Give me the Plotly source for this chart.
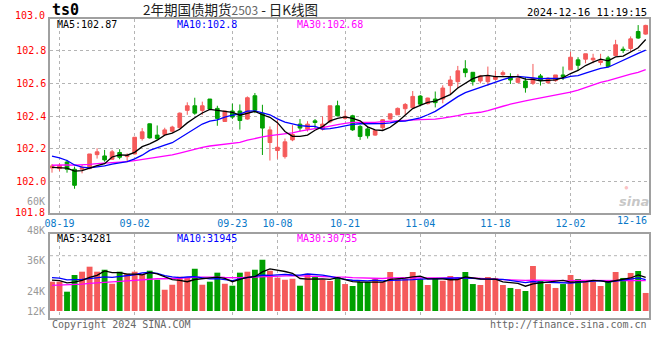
import plotly.graph_objects as go
import pandas as pd

# ---------------- data ----------------
tick_labels = ["08-19", "09-02", "09-23", "10-08", "10-21", "11-04", "11-18", "12-02", "12-16"]
tick_index = [1, 11, 24, 30, 39, 49, 59, 69, 79]

open_ = [102.084, 102.080, 102.120, 102.076, 102.076, 102.080, 102.165, 102.157, 102.137, 102.178,
         102.153, 102.169, 102.263, 102.353, 102.284, 102.288, 102.308, 102.329, 102.435, 102.463,
         102.435, 102.504, 102.447, 102.367, 102.431, 102.431, 102.382, 102.524, 102.418, 102.239,
         102.190, 102.153, 102.255, 102.351, 102.320, 102.371, 102.320, 102.365, 102.463, 102.386,
         102.402, 102.337, 102.322, 102.284, 102.329, 102.382, 102.408, 102.445, 102.451, 102.522,
         102.476, 102.504, 102.504, 102.586, 102.610, 102.688, 102.667, 102.614, 102.610, 102.624,
         102.653, 102.641, 102.606, 102.614, 102.600, 102.645, 102.604, 102.616, 102.651, 102.682,
         102.743, 102.747, 102.743, 102.727, 102.755, 102.769, 102.808, 102.812, 102.916, 102.900]
high = [102.108, 102.112, 102.133, 102.092, 102.102, 102.169, 102.204, 102.194, 102.194, 102.198,
        102.173, 102.273, 102.327, 102.355, 102.343, 102.329, 102.341, 102.422, 102.484, 102.512,
        102.488, 102.504, 102.463, 102.431, 102.476, 102.471, 102.520, 102.541, 102.469, 102.337,
        102.380, 102.263, 102.345, 102.382, 102.369, 102.382, 102.398, 102.463, 102.494, 102.433,
        102.408, 102.345, 102.337, 102.316, 102.382, 102.414, 102.453, 102.480, 102.553, 102.529,
        102.512, 102.550, 102.588, 102.645, 102.706, 102.741, 102.667, 102.651, 102.702, 102.678,
        102.678, 102.661, 102.657, 102.637, 102.718, 102.657, 102.637, 102.651, 102.702, 102.792,
        102.759, 102.780, 102.780, 102.780, 102.767, 102.865, 102.824, 102.886, 102.955, 102.957]
low = [102.055, 102.065, 102.055, 101.957, 102.051, 102.076, 102.141, 102.122, 102.133, 102.137,
       102.122, 102.167, 102.251, 102.263, 102.255, 102.280, 102.300, 102.324, 102.408, 102.408,
       102.408, 102.439, 102.341, 102.367, 102.382, 102.318, 102.378, 102.418, 102.163, 102.129,
       102.140, 102.141, 102.247, 102.306, 102.306, 102.327, 102.312, 102.357, 102.398, 102.378,
       102.310, 102.255, 102.263, 102.280, 102.316, 102.378, 102.408, 102.408, 102.451, 102.459,
       102.471, 102.453, 102.478, 102.531, 102.569, 102.637, 102.586, 102.600, 102.584, 102.620,
       102.645, 102.596, 102.600, 102.543, 102.590, 102.586, 102.596, 102.610, 102.620, 102.682,
       102.678, 102.722, 102.722, 102.710, 102.698, 102.769, 102.784, 102.794, 102.871, 102.896]
close = [102.096, 102.100, 102.076, 101.978, 102.088, 102.169, 102.182, 102.133, 102.182, 102.149,
         102.161, 102.271, 102.304, 102.267, 102.263, 102.316, 102.333, 102.418, 102.463, 102.418,
         102.463, 102.443, 102.386, 102.431, 102.394, 102.373, 102.512, 102.435, 102.327, 102.316,
         102.210, 102.243, 102.288, 102.327, 102.351, 102.361, 102.351, 102.463, 102.402, 102.398,
         102.316, 102.276, 102.280, 102.312, 102.378, 102.414, 102.447, 102.471, 102.520, 102.473,
         102.510, 102.482, 102.571, 102.620, 102.676, 102.665, 102.610, 102.645, 102.645, 102.641,
         102.665, 102.620, 102.631, 102.573, 102.631, 102.616, 102.631, 102.651, 102.641, 102.759,
         102.710, 102.780, 102.753, 102.737, 102.702, 102.835, 102.800, 102.871, 102.876, 102.953]
volume = [29900, 29900, 19700, 36700, 40100, 45200, 40100, 42100, 27800, 40100,
          38000, 40100, 38000, 41100, 31900, 21700, 26800, 35000, 34000, 43100,
          26800, 29900, 39100, 27800, 25800, 39100, 40100, 42100, 52300, 41100,
          34000, 31900, 32900, 25800, 38000, 35000, 31900, 30600, 34700, 27500,
          25500, 29600, 29600, 32600, 29600, 39800, 32600, 32600, 39800, 32600,
          26500, 33700, 30900, 35700, 33700, 39800, 27500, 26500, 34700, 33700,
          26500, 23500, 22400, 20400, 45900, 31600, 27500, 23500, 27500, 36700,
          32600, 29600, 29600, 25500, 30600, 39800, 33700, 38800, 40800, 18400]

# closes / volumes of the 29 sessions before the first candle (only feed the moving averages)
prior_close = [102.04, 102.05, 102.03, 102.06, 102.05, 102.07, 102.06, 102.08, 102.07, 102.06,
               102.08, 102.09, 102.07, 102.08, 102.10, 102.09, 102.08, 102.10, 102.09, 102.10,
               102.20, 102.24, 102.25, 102.22, 102.21, 102.12, 102.08, 102.07, 102.07]
prior_volume = [21000, 23500, 20500, 24000, 22000, 19500, 23000, 25000, 21500, 22500,
                20000, 24500, 23000, 21000, 22000, 24000, 23500, 21000, 22500, 23000,
                34000, 38000, 37500, 35000, 37500, 33000, 31000, 32500, 31500]

# legend texts as printed on the chart
price_ma_text = ["MA5:102.87", "MA10:102.8", "MA30:102.68"]
vol_ma_text = ["MA5:34281", "MA10:31945", "MA30:30735"]
vol_axis_labels = ["60K", "48K", "36K", "24K", "12K"]

# ---------------- derived ----------------
n = len(close)
idx = list(range(n))
c_all = pd.Series(prior_close + close)
v_all = pd.Series(prior_volume + volume)
ma = {k: c_all.rolling(k).mean().tolist()[-n:] for k in (5, 10, 30)}
vma = {k: v_all.rolling(k).mean().tolist()[-n:] for k in (5, 10, 30)}

RED = "#F55A5A"
GREEN = "#00A000"
MA_COL = {5: "#000000", 10: "#0000FF", 30: "#FF00FF"}
MONO = "DejaVu Sans Mono"
W, H = 660, 360

def fx(px):
    return px / W

def fy(py):
    return 1 - py / H

# pixel geometry of the panels
X0, X1 = 50, 649
P_TOP, P_BOT = 19, 213
V_TOP, V_BOT = 234, 318
SLOT = 7.515          # px per session
FIRST = 52            # px centre of first session
PPU = 164.0           # px per price unit, 102.0 sits at y=181.7
VPX = 1020.0          # lots per px, zero volume at y=311

xr = [(X0 - FIRST) / SLOT, (X1 - FIRST) / SLOT]
yr = [102.0 - (P_BOT - 181.7) / PPU, 102.0 + (181.7 - P_TOP) / PPU]
vr = [-(V_BOT - 311) * VPX, (311 - V_TOP) * VPX]

fig = go.Figure()

fig.add_trace(go.Candlestick(
    x=idx, open=open_, high=high, low=low, close=close,
    increasing=dict(line=dict(color=RED, width=1), fillcolor=RED),
    decreasing=dict(line=dict(color=GREEN, width=1), fillcolor=GREEN),
    whiskerwidth=0, xaxis="x", yaxis="y", showlegend=False, hoverinfo="skip"))

for k in (30, 10, 5):
    fig.add_trace(go.Scatter(x=idx, y=ma[k], mode="lines", line=dict(color=MA_COL[k], width=1.3),
                             xaxis="x", yaxis="y", showlegend=False, hoverinfo="skip"))

bar_colors = [RED if c >= o else GREEN for o, c in zip(open_, close)]
fig.add_trace(go.Bar(x=idx, y=volume, marker=dict(color=bar_colors, line=dict(width=0)),
                     width=0.78, xaxis="x2", yaxis="y2", showlegend=False, hoverinfo="skip"))
for k in (30, 10, 5):
    fig.add_trace(go.Scatter(x=idx, y=vma[k], mode="lines", line=dict(color=MA_COL[k], width=1.3),
                             xaxis="x2", yaxis="y2", showlegend=False, hoverinfo="skip"))

grid = dict(showgrid=True, gridcolor="#B4B4B4", griddash="dot", gridwidth=1)
frame = dict(showline=True, mirror=True, linecolor="#A0A0A0", linewidth=1.5, zeroline=False,
             automargin=False)

fig.update_layout(
    width=W, height=H, margin=dict(l=0, r=0, t=0, b=0, autoexpand=False),
    paper_bgcolor="white", plot_bgcolor="white", showlegend=False,
    boxgap=0.3, bargap=0.2,
    xaxis=dict(domain=[fx(X0), fx(X1)], range=xr, tickvals=tick_index[:-1], ticktext=tick_labels[:-1],
               tickfont=dict(family=MONO, size=10, color="#0A78C8"), ticks="",
               rangeslider=dict(visible=False), **grid, **frame),
    yaxis=dict(domain=[fy(P_BOT), fy(P_TOP)], range=yr,
               tickvals=[102.0, 102.2, 102.4, 102.6, 102.8],
               ticktext=["102.0", "102.2", "102.4", "102.6", "102.8"],
               tickfont=dict(family=MONO, size=10, color="#FF0000"), ticks="", **grid, **frame),
    xaxis2=dict(domain=[fx(X0), fx(X1)], range=xr, tickvals=tick_index[:-1], showticklabels=False,
                ticks="", anchor="y2", **grid, **frame),
    yaxis2=dict(domain=[fy(V_BOT), fy(V_TOP)], range=vr, showticklabels=False, ticks="",
                showgrid=False, anchor="x2", **frame),
)

shapes = []
for gy in (255.7, 295.7):
    shapes.append(dict(type="line", xref="paper", yref="paper", x0=fx(X0), x1=fx(X1), y0=fy(gy), y1=fy(gy),
                       line=dict(color="#B4B4B4", width=1, dash="dot"), layer="below"))
fig.update_layout(shapes=shapes)

ann = []

def text(x, y, s, color="#000", size=10, anchor="left", family=MONO):
    ann.append(dict(x=fx(x), y=fy(y), xref="paper", yref="paper", text=s, showarrow=False,
                    xanchor=anchor, yanchor="middle", font=dict(family=family, size=size, color=color)))

text(50, 10, "<b>ts0</b>", "#000", 15)
text(141, 9, "2年期国债期货<span style='font-size:12px;color:#666'>2503</span> - 日K线图", "#222", 13.5,
     family="Noto Sans CJK SC")
text(649, 12, "2024-12-16 11:19:15", "#000", 10.5, "right")
text(47, 16, "103.0", "#FF0000", 10, "right")
text(47, 212.5, "101.8", "#FF0000", 10, "right")

for xx, s, k in zip((55, 175, 295), price_ma_text, (5, 10, 30)):
    text(xx, 24.5, s, MA_COL[k])
for xx, s, k in zip((55, 175, 295), vol_ma_text, (5, 10, 30)):
    text(xx, 238.5, s, MA_COL[k])

for lab, yy in zip(vol_axis_labels, (201, 230.7, 260, 291, 311)):
    text(47, yy, lab, "#999999", 10, "right")

text(649, 220.7, tick_labels[-1], "#0A78C8", 10, "right")
text(50, 324, "Copyright 2024 SINA.COM", "#666666", 10)
text(649, 324, "http://finance.sina.com.cn", "#666666", 10, "right")
text(634, 201, "<b><i>sina</i></b>", "rgba(150,150,150,0.55)", 13, "center", "DejaVu Sans")
ann.append(dict(x=fx(631), y=fy(186), xref="paper", yref="paper", text="●", showarrow=False,
                font=dict(size=8, color="rgba(245,120,120,0.45)")))

fig.update_layout(annotations=ann)
fig.write_html("out.html", config={"displayModeBar": False},
               post_script="document.body.style.margin='0';document.body.style.overflow='hidden';")
